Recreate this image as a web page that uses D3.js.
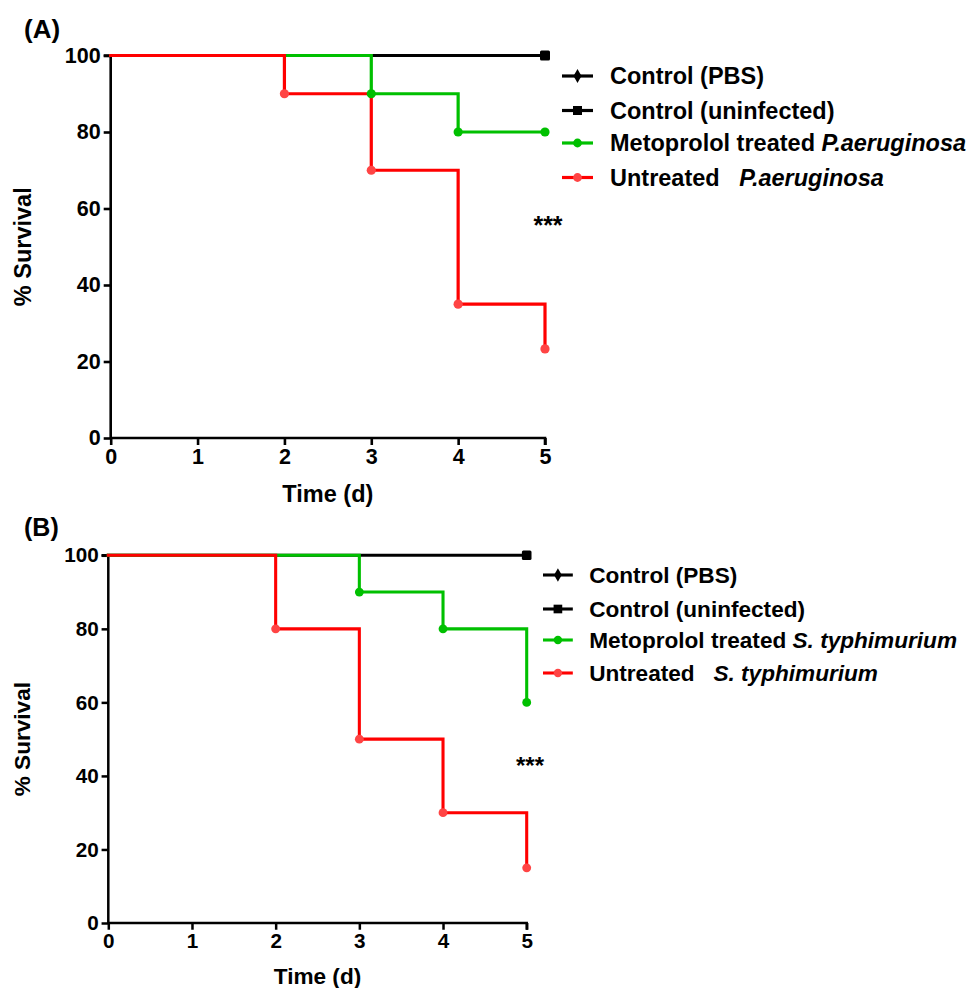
<!DOCTYPE html>
<html>
<head>
<meta charset="utf-8">
<script src="https://cdn.jsdelivr.net/npm/d3@7/dist/d3.min.js"></script>
<style>
  html, body { margin: 0; padding: 0; background: #fff; }
  svg { display: block; font-family: "Liberation Sans", Arial, sans-serif; font-weight: bold; }
  svg text { white-space: pre; }
</style>
</head>
<body>
<svg id="chart" width="973" height="988"></svg>
<script>
// Survival data (time in days, % survival)
const days = [0, 1, 2, 3, 4, 5];
const yTicks = [0, 20, 40, 60, 80, 100];

// Panel A: P. aeruginosa
const aControlTimes = [0, 5];
const aControlSurv = [100, 100];
const aTreatedTimes = [0, 3, 4, 5];
const aTreatedSurv = [100, 90, 80, 80];
const aUntreatedTimes = [0, 2, 3, 4, 5];
const aUntreatedSurv = [100, 90, 70, 35, 23.3];
const aLegend = [
  ["Control (PBS)", ""],
  ["Control (uninfected)", ""],
  ["Metoprolol treated ", "P.aeruginosa"],
  ["Untreated   ", "P.aeruginosa"]
];

// Panel B: S. typhimurium
const bControlTimes = [0, 5];
const bControlSurv = [100, 100];
const bTreatedTimes = [0, 3, 4, 5];
const bTreatedSurv = [100, 90, 80, 60];
const bUntreatedTimes = [0, 2, 3, 4, 5];
const bUntreatedSurv = [100, 80, 50, 30, 15];
const bLegend = [
  ["Control (PBS)", ""],
  ["Control (uninfected)", ""],
  ["Metoprolol treated ", "S. typhimurium"],
  ["Untreated   ", "S. typhimurium"]
];

const RED = "#ff0000", RED_DOT = "#ff4444", GREEN = "#00c000", BLACK = "#000";
const FONT = '"Liberation Sans", Arial, sans-serif';
const svg = d3.select("#chart");

function zip(t, s) { return t.map((d, i) => ({ t: d, s: s[i] })); }

function drawPanel(p) {
  const k = p.k; // panel scale factor
  const x = d3.scaleLinear().domain([0, 5]).range([p.x0, p.x1]);
  const y = d3.scaleLinear().domain([0, 100]).range([p.y0, p.y1]);
  const g = svg.append("g");

  // axes
  const tick = 7 * k;
  const xAxis = d3.axisBottom(x).tickValues(days).tickSize(tick).tickPadding(4 * k).tickFormat(d3.format("d"));
  const yAxis = d3.axisLeft(y).tickValues(yTicks).tickSize(tick).tickPadding(3 * k).tickFormat(d3.format("d"));
  const gx = g.append("g").attr("transform", `translate(0,${p.y0})`).call(xAxis);
  const gy = g.append("g").attr("transform", `translate(${p.x0},0)`).call(yAxis);
  [gx, gy].forEach(a => {
    a.attr("font-family", FONT);
    a.select(".domain").attr("stroke", BLACK).attr("stroke-width", 2.6 * k);
    a.selectAll(".tick line").attr("stroke", BLACK).attr("stroke-width", 2.6 * k);
    a.selectAll(".tick text").attr("fill", BLACK).style("font-size", (21.5 * k) + "px").style("font-weight", "bold")
      .style("font-family", FONT);
  });
  gx.select(".domain").attr("d", `M${p.x0},0H${p.x1}V${tick}`);
  gy.select(".domain").attr("d", `M${-tick},${p.y1}H0V${p.y0}`);

  const line = d3.line().x(d => x(d.t)).y(d => y(d.s)).curve(d3.curveStepAfter);
  const series = [
    { pts: zip(p.ctrlT, p.ctrlS), color: BLACK, dot: null },
    { pts: zip(p.trtT, p.trtS), color: GREEN, dot: GREEN },
    { pts: zip(p.untT, p.untS), color: RED, dot: RED_DOT }
  ];
  series.forEach(s => {
    g.append("path").datum(s.pts).attr("d", line)
      .attr("fill", "none").attr("stroke", s.color).attr("stroke-width", 3.2 * k)
      .attr("stroke-linejoin", "miter").attr("stroke-linecap", "square");
  });
  // event markers
  series.forEach(s => {
    if (!s.dot) return;
    g.selectAll(null).data(s.pts.slice(1)).enter().append("circle")
      .attr("cx", d => x(d.t)).attr("cy", d => y(d.s)).attr("r", 4.6 * k).attr("fill", s.dot);
  });
  // control end marker (square)
  const last = series[0].pts[series[0].pts.length - 1];
  const sq = 10 * k;
  g.append("rect").attr("x", x(last.t) - sq / 2).attr("y", y(last.s) - sq / 2)
    .attr("width", sq).attr("height", sq).attr("rx", 1.5).attr("fill", BLACK);

  // axis titles
  g.append("text").attr("transform", `translate(${p.yTitleX},${(p.y0 + p.y1) / 2}) rotate(-90)`)
    .attr("text-anchor", "middle").style("font-size", (23.5 * k) + "px").text("% Survival");
  g.append("text").attr("x", (p.x0 + p.x1) / 2).attr("y", p.xTitleY)
    .attr("text-anchor", "middle").style("font-size", (23.5 * k) + "px").text("Time (d)");
  // panel tag
  g.append("text").attr("x", 24).attr("y", p.tagY).style("font-size", (26 * k) + "px").text(p.tag);
  // significance
  g.append("text").attr("x", p.starX).attr("y", p.starY).attr("text-anchor", "middle")
    .style("font-size", (25 * k) + "px").text("***");

  // legend
  const lg = g.append("g").attr("transform", `translate(${p.legX},0)`);
  p.legend.forEach((item, i) => {
    const ly = p.legY[i];
    const col = i < 2 ? BLACK : (i === 2 ? GREEN : RED);
    lg.append("line").attr("x1", 0).attr("x2", 31 * k).attr("y1", ly).attr("y2", ly)
      .attr("stroke", col).attr("stroke-width", 3.2 * k);
    const cx = 15.5 * k;
    if (i === 0) {
      lg.append("path").attr("d", d3.symbol().type(d3.symbolDiamond).size(55 * k * k)())
        .attr("transform", `translate(${cx},${ly})`).attr("fill", BLACK);
    } else if (i === 1) {
      const s = 9 * k;
      lg.append("rect").attr("x", cx - s / 2).attr("y", ly - s / 2).attr("width", s).attr("height", s).attr("fill", BLACK);
    } else {
      lg.append("circle").attr("cx", cx).attr("cy", ly).attr("r", 4.4 * k).attr("fill", i === 2 ? GREEN : RED_DOT);
    }
    const t = lg.append("text").attr("x", 48 * k).attr("y", ly + 8 * k).style("font-size", (23.5 * k) + "px");
    t.append("tspan").text(item[0]);
    if (item[1]) t.append("tspan").style("font-style", "italic").text(item[1]);
  });
}

drawPanel({
  k: 1,
  x0: 110.7, x1: 545, y0: 438, y1: 55.5,
  ctrlT: aControlTimes, ctrlS: aControlSurv,
  trtT: aTreatedTimes, trtS: aTreatedSurv,
  untT: aUntreatedTimes, untS: aUntreatedSurv,
  yTitleX: 31, xTitleY: 502, tag: "(A)", tagY: 38,
  starX: 548, starY: 234,
  legX: 562, legY: [76, 110.5, 143, 177.5], legend: aLegend
});

drawPanel({
  k: 0.962,
  x0: 108.3, x1: 526.7, y0: 923, y1: 555.3,
  ctrlT: bControlTimes, ctrlS: bControlSurv,
  trtT: bTreatedTimes, trtS: bTreatedSurv,
  untT: bUntreatedTimes, untS: bUntreatedSurv,
  yTitleX: 30, xTitleY: 984, tag: "(B)", tagY: 536,
  starX: 530, starY: 774,
  legX: 543, legY: [575, 609, 640, 673], legend: bLegend
});
</script>
</body>
</html>
